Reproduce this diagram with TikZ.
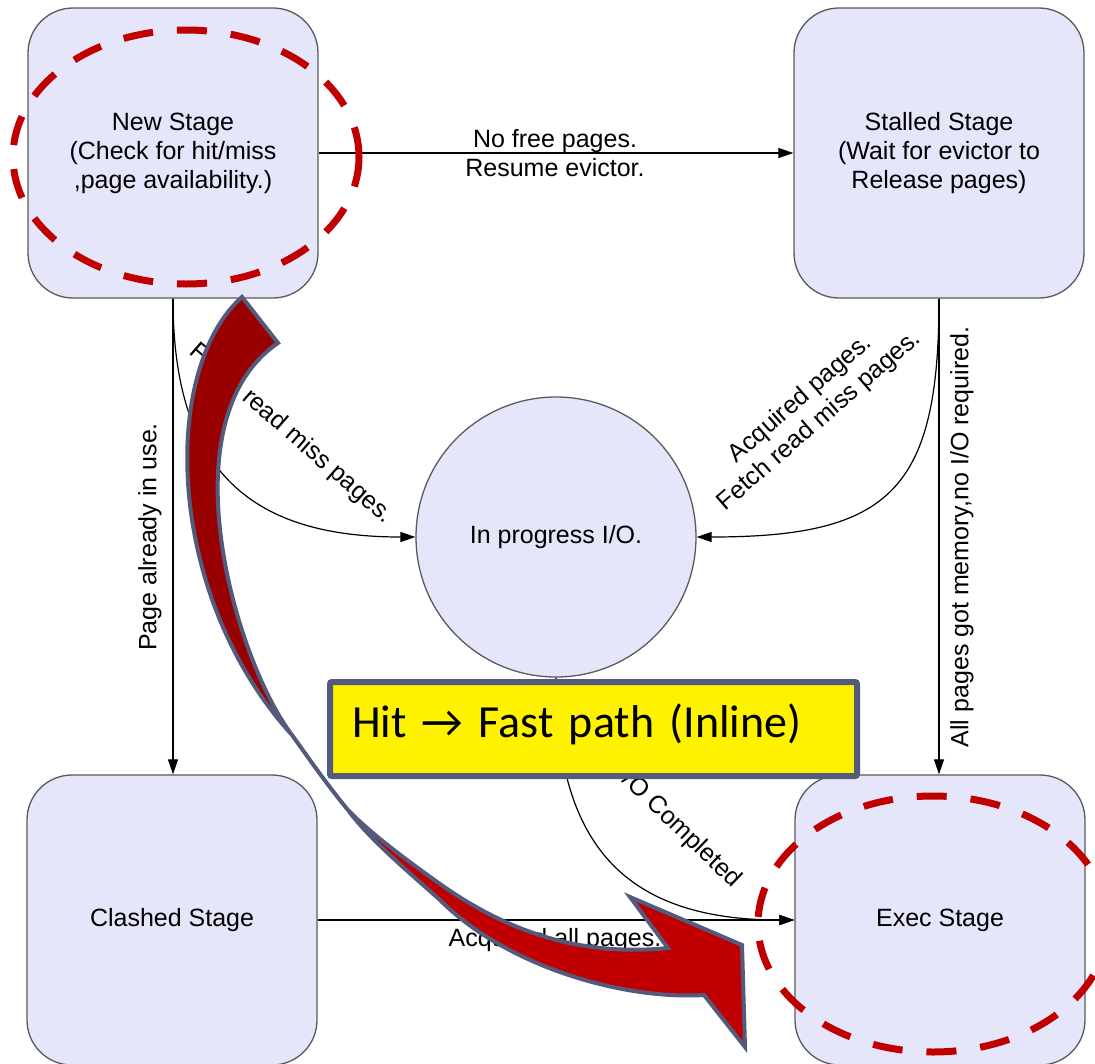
\documentclass[tikz,border=0pt]{standalone}
\usepackage{fontspec}
\setmainfont{Liberation Sans}
\newfontfamily\calibfont{Carlito}
\usetikzlibrary{arrows.meta}
\definecolor{stagefill}{HTML}{E6E6FA}
\definecolor{stageline}{HTML}{5A5A5A}
\definecolor{hilite}{HTML}{C00000}
\definecolor{arrowdark}{HTML}{990000}
\definecolor{slate}{HTML}{535A7B}
\begin{document}
\begin{tikzpicture}[x=1pt,y=-1pt,
  stage/.style={draw=stageline, line width=1.3pt, fill=stagefill, rounded corners=45pt,
    minimum width=290pt, minimum height=290pt, align=center, inner sep=0pt,
    font=\fontsize{25}{29}\selectfont},
  iostate/.style={circle, draw=stageline, line width=1.3pt, fill=stagefill,
    minimum size=280pt, inner sep=0pt, font=\fontsize{25}{29}\selectfont},
  conn/.style={draw=black, line width=1.2pt, -{Triangle[length=15pt,width=10pt]}},
  lbl/.style={font=\fontsize{25}{29}\selectfont, align=center, inner sep=0pt},
  focus/.style={draw=hilite, line width=7pt, dash pattern=on 30pt off 24pt},
  callout/.style={draw=slate, line width=6pt, fill=yellow, rounded corners=2pt,
    minimum width=527pt, minimum height=94pt, text width=483pt, inner xsep=22pt,
    text height=30pt, text depth=14pt, align=left,
    font=\calibfont\fontsize{46}{50}\selectfont},
  ribbonedge/.style={draw=slate, line width=4pt},
]
\fill[white] (0,0) rectangle (1095,1063);
\clip (0,0) rectangle (1095,1063);
\useasboundingbox (0,0) rectangle (1095,1063);

% stages
\node[stage] (new) at (173,153) {New Stage\\(Check for hit/miss\\,page availability.)};
\node[stage] (stalled) at (939,153) {Stalled Stage\\(Wait for evictor to\\Release pages)};
\node[stage] (clashed) at (172,920) {Clashed Stage};
\node[stage] (exec) at (940,920) {Exec Stage};
\node[iostate] (io) at (556,537) {In progress I/O.};

% transitions
\draw[conn] (new.east) -- (stalled.west);
\draw[conn] (new.south) -- (new.south |- clashed.north);
\draw[conn] (stalled.south) -- (stalled.south |- exec.north);
\draw[conn] (clashed.east) -- (exec.west);
\draw[conn] (new.south) .. controls +(0,167) and +(-170,0) .. (io.west);
\draw[conn] (stalled.south) .. controls +(0,191) and +(194,0) .. (io.east);
\draw[conn] (io.south) .. controls +(0,170) and +(-167,0) .. (exec.west);

% transition labels
\node[lbl] (lnofree) at (555,153) {No free pages.\\Resume evictor.};
\node[lbl, rotate=90] (linuse) at (150,537) {Page already in use.};
\node[lbl, rotate=90] (lallmem) at (962,537) {All pages got memory,no I/O required.};
\node[lbl] (lacqall) at (555,940) {Acquired all pages.};
\node[lbl, rotate=-41] (lfetch) at (291,434) {Fetch read miss pages.};
\node[lbl, rotate=41] (lacqfetch) at (810,410) {Acquired pages.\\Fetch read miss pages.};
\node[lbl, rotate=-44] (ldone) at (679,828) {I/O Completed};

% highlighted stages
\draw[focus] (186,157) ellipse [x radius=173, y radius=127];
\draw[focus] (933,924) ellipse [x radius=175, y radius=128];

% twisted ribbon arrow: back face (upper part) darker than front face
\coordinate (tailA) at (242,297);
\coordinate (tailB) at (278,343);
\coordinate (pinchA) at (292,735);
\coordinate (pinchB) at (348,810);
\coordinate (upmid) at (440,884);
\coordinate (notch) at (668,948);
\coordinate (barb) at (630,897);
\coordinate (corner) at (742,945);
\coordinate (tip) at (745,1047);
\coordinate (join) at (704,995);
\coordinate (lowmid) at (440,900);

\fill[hilite]
  (tailA) .. controls (160,370) and (165,595) .. (pinchA)
  .. controls (310,760) and (328,786) .. (pinchB)
  .. controls (372,835) and (412,864) .. (upmid)
  .. controls (505,930) and (578,957) .. (notch)
  -- (barb) -- (corner) -- (tip) -- (join)
  .. controls (620,1000) and (505,965) .. (lowmid)
  .. controls (410,873) and (370,840) .. (pinchB)
  .. controls (328,786) and (310,760) .. (pinchA)
  .. controls (235,660) and (165,420) .. (tailB) -- cycle;
\fill[arrowdark]
  (tailA) .. controls (160,370) and (165,595) .. (pinchA)
  .. controls (235,660) and (165,420) .. (tailB) -- cycle;
\draw[ribbonedge]
  (tailA) .. controls (160,370) and (165,595) .. (pinchA)
  .. controls (310,760) and (328,786) .. (pinchB)
  .. controls (372,835) and (412,864) .. (upmid)
  .. controls (505,930) and (578,957) .. (notch)
  -- (barb) -- (corner) -- (tip) -- (join)
  .. controls (620,1000) and (505,965) .. (lowmid)
  .. controls (410,873) and (370,840) .. (pinchB)
  .. controls (328,786) and (310,760) .. (pinchA)
  .. controls (235,660) and (165,420) .. (tailB) -- cycle;

% callout
\node[callout] (hit) at (593.5,729) {Hit → Fast path (Inline)};
\end{tikzpicture}
\end{document}
